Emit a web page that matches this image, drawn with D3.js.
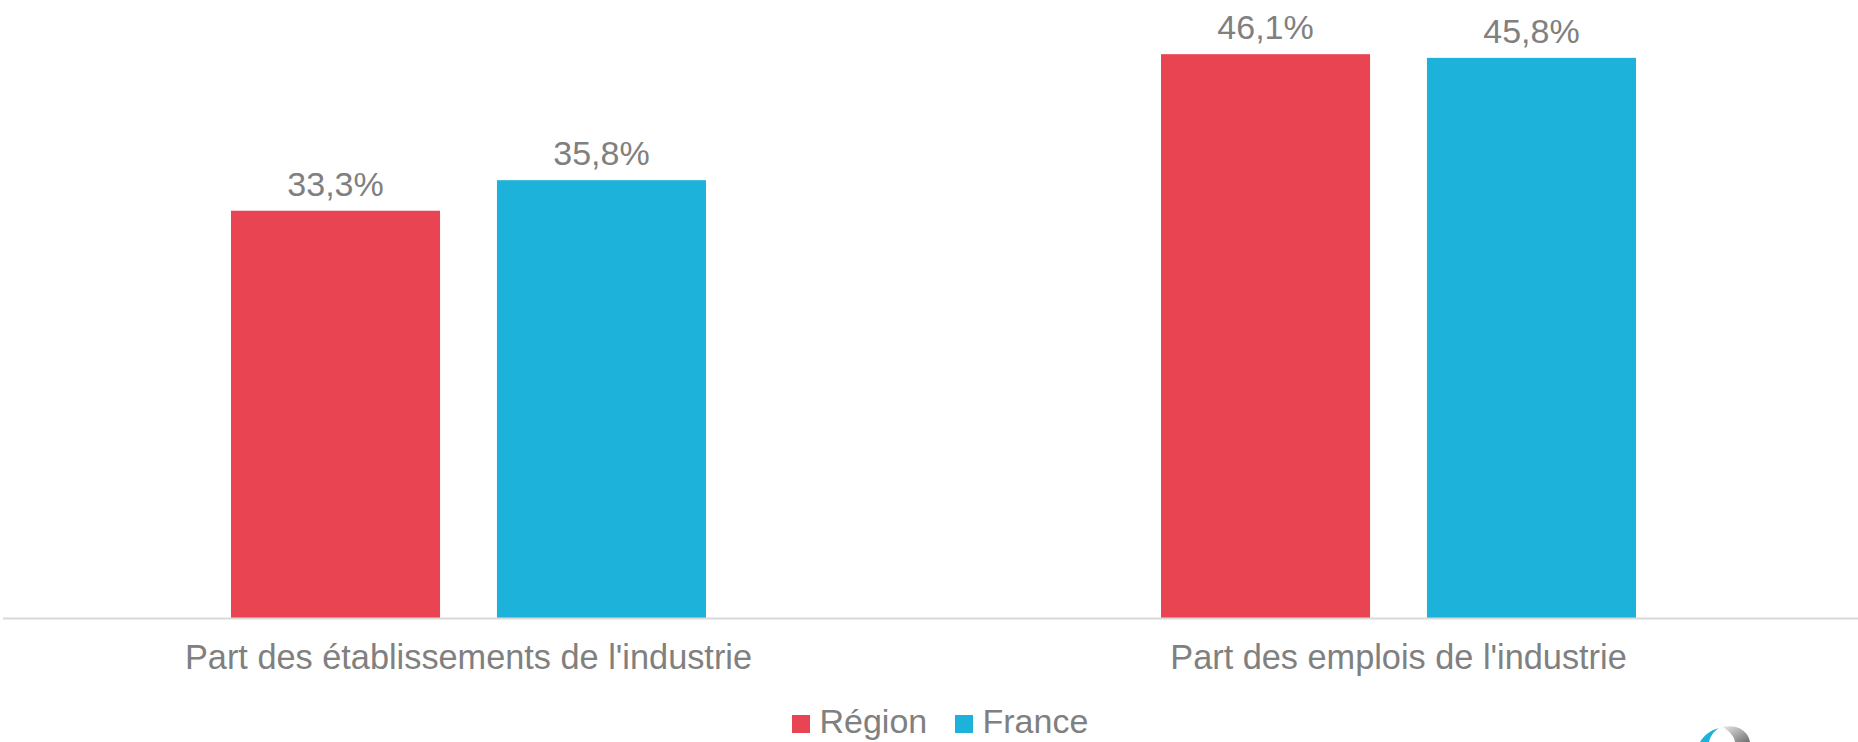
<!DOCTYPE html>
<html lang="fr">
<head>
    <meta charset="UTF-8">
    <title>Part de l'industrie</title>
    <script src="https://d3js.org/d3.v7.min.js"></script>
    <style>
        body { margin: 0; background: #fff; }
        svg { display: block; font-family: "Liberation Sans", Arial, sans-serif; }
        .val, .cat, .leg { fill: #808080; }
    </style>
</head>
<body>
<svg width="1858" height="742"></svg>

<script>
    // data
    const categories = ["Part des établissements de l'industrie", "Part des emplois de l'industrie"];
    const seriesNames = ["Région", "France"];
    const region = [33.3, 46.1];
    const france = [35.8, 45.8];
    const colors = ["#E84451", "#1DB2DA"];

    const svg = d3.select("svg");
    const axisY = 618;

    // scales
    const x0 = d3.scaleBand().domain(categories).range([3.5, 1863.5]).padding(0);
    const groupW = 475;
    const x1 = d3.scaleBand().domain(seriesNames).range([0, groupW]).paddingInner(0.214).paddingOuter(0);
    const y = d3.scaleLinear().domain([0, 50]).range([axisY, 6.5]);

    const rows = categories.map((c, i) => ({
        cat: c,
        vals: [{s: seriesNames[0], v: region[i], c: colors[0]},
               {s: seriesNames[1], v: france[i], c: colors[1]}]
    }));

    const fmt = v => d3.format(".1f")(v).replace(".", ",") + "%";

    const g = svg.append("g").selectAll("g")
        .data(rows)
        .enter().append("g")
        .attr("transform", d => "translate(" + (x0(d.cat) + (x0.bandwidth() - groupW) / 2) + ",0)");

    g.selectAll("rect")
        .data(d => d.vals)
        .enter().append("rect")
        .attr("x", d => x1(d.s))
        .attr("y", d => y(d.v))
        .attr("width", x1.bandwidth())
        .attr("height", d => axisY - y(d.v))
        .attr("fill", d => d.c);

    g.selectAll("text.val")
        .data(d => d.vals)
        .enter().append("text")
        .attr("class", "val")
        .attr("x", d => x1(d.s) + x1.bandwidth() / 2)
        .attr("y", d => y(d.v) - 15)
        .attr("text-anchor", "middle")
        .attr("font-size", "34px")
        .text(d => fmt(d.v));

    // axis line
    svg.append("line")
        .attr("x1", 3).attr("x2", 1858)
        .attr("y1", axisY + 0.5).attr("y2", axisY + 0.5)
        .attr("stroke", "#d9d9d9")
        .attr("stroke-width", 2);

    // category labels
    svg.selectAll("text.cat")
        .data(categories)
        .enter().append("text")
        .attr("class", "cat")
        .attr("x", d => x0(d) + x0.bandwidth() / 2)
        .attr("y", 669)
        .attr("text-anchor", "middle")
        .attr("font-size", "34.3px")
        .text(d => d);

    // legend
    const legX = [792, 955];
    const leg = svg.selectAll("g.leg")
        .data(seriesNames)
        .enter().append("g")
        .attr("transform", (d, i) => "translate(" + legX[i] + ",715)");
    leg.append("rect")
        .attr("width", 18).attr("height", 18)
        .attr("fill", (d, i) => colors[i]);
    leg.append("text")
        .attr("class", "leg")
        .attr("x", 27.5)
        .attr("y", 17.7)
        .attr("font-size", "34px")
        .text(d => d);

    // small logo cut at the bottom-right corner
    const grad = svg.append("defs").append("linearGradient")
        .attr("id", "gr").attr("x1", "0").attr("x2", "1").attr("y1", "0").attr("y2", "1");
    grad.append("stop").attr("offset", "0").attr("stop-color", "#e6e6e6");
    grad.append("stop").attr("offset", "1").attr("stop-color", "#6f6f6f");
    svg.append("path")
        .attr("d", "M1723,727 C1736,724 1748,730 1750,742 L1735,742 C1734,736 1730,732 1723,727 Z")
        .attr("fill", "url(#gr)");
    svg.append("path")
        .attr("d", "M1700,742 C1704,735 1711,730 1719,728 C1713,732 1710,737 1709,742 Z")
        .attr("fill", "#1DB2DA");
</script>
</body>
</html>
